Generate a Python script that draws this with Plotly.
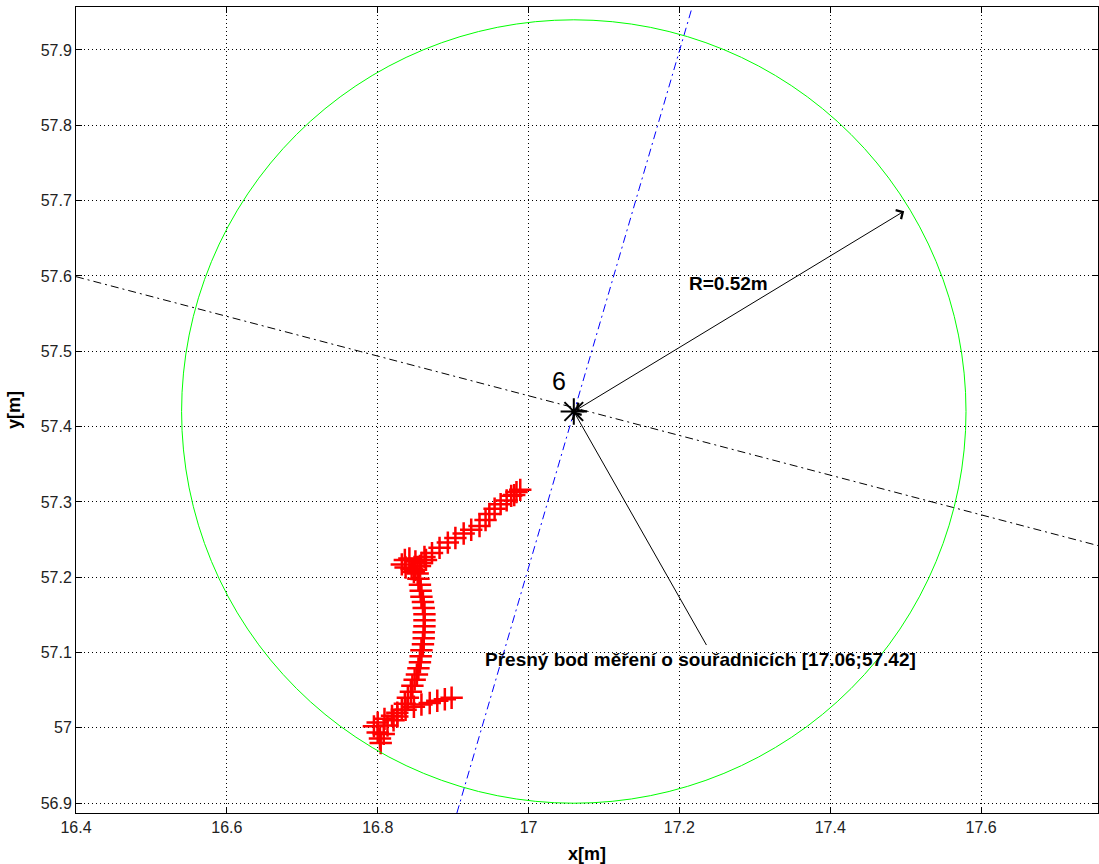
import plotly.graph_objects as go

# ---- data ----
center_x = 17.06
center_y = 57.42
radius = 0.52
radius_tip = (17.498, 57.686)
label_anchor = (17.237, 57.108)

blue_line_x = [16.905, 17.217]
blue_line_y = [56.887, 57.957]
black_line_x = [16.40, 17.755]
black_line_y = [57.599, 57.242]

track_x = [16.898, 16.889, 16.879, 16.869, 16.858, 16.848, 16.837, 16.826, 16.819,
           16.809, 16.800, 16.795, 16.800, 16.803, 16.804, 16.808, 16.813, 16.821, 16.826,
           16.832, 16.836, 16.840, 16.844, 16.846, 16.849, 16.852, 16.854, 16.856, 16.857,
           16.858, 16.860, 16.861, 16.861, 16.862, 16.862, 16.862, 16.861, 16.860, 16.858,
           16.857, 16.856, 16.854, 16.853, 16.850,
           16.845, 16.837, 16.832, 16.836, 16.842, 16.850, 16.858, 16.864, 16.856, 16.848,
           16.862, 16.872, 16.882, 16.893, 16.903, 16.914, 16.924, 16.935, 16.943, 16.948,
           16.955, 16.963, 16.971, 16.977, 16.984, 16.989, 16.981]
track_y = [57.040, 57.038, 57.036, 57.033, 57.031, 57.028, 57.024, 57.020, 57.016,
           57.012, 57.007, 57.002, 56.994, 56.986, 56.980, 56.992, 57.003, 57.010, 57.015,
           57.024, 57.032, 57.040, 57.048, 57.056, 57.064, 57.071, 57.079, 57.087, 57.095,
           57.103, 57.111, 57.119, 57.127, 57.135, 57.143, 57.151, 57.159, 57.167, 57.174,
           57.182, 57.190, 57.198, 57.205, 57.210,
           57.211, 57.213, 57.217, 57.223, 57.225, 57.221, 57.219, 57.223, 57.215, 57.207,
           57.227, 57.232, 57.239, 57.246, 57.252, 57.258, 57.263, 57.268, 57.276, 57.284,
           57.291, 57.297, 57.302, 57.308, 57.313, 57.316, 57.309]

x_ticks = [16.4, 16.6, 16.8, 17.0, 17.2, 17.4, 17.6]
x_tick_labels = ["16.4", "16.6", "16.8", "17", "17.2", "17.4", "17.6"]
y_ticks = [56.9, 57.0, 57.1, 57.2, 57.3, 57.4, 57.5, 57.6, 57.7, 57.8, 57.9]
y_tick_labels = ["56.9", "57", "57.1", "57.2", "57.3", "57.4", "57.5", "57.6", "57.7", "57.8", "57.9"]

point_label = "6"
radius_label = "R=0.52m"
point_text = "Přesný bod měření o souřadnicích [17.06;57.42]"

FONT = "Liberation Sans, Arial, sans-serif"

fig = go.Figure()

fig.add_shape(type="circle", xref="x", yref="y",
              x0=center_x - radius, x1=center_x + radius,
              y0=center_y - radius, y1=center_y + radius,
              line=dict(color="#00ff00", width=1), layer="above")

fig.add_trace(go.Scatter(x=black_line_x, y=black_line_y, mode="lines",
                         line=dict(color="black", width=1, dash="8px,4px,2px,4px"),
                         hoverinfo="skip"))
fig.add_trace(go.Scatter(x=blue_line_x, y=blue_line_y, mode="lines",
                         line=dict(color="blue", width=1, dash="8px,4px,2px,4px"),
                         hoverinfo="skip"))
fig.add_trace(go.Scatter(x=track_x, y=track_y, mode="markers",
                         marker=dict(symbol="cross-thin", size=16, color="red",
                                     line=dict(color="red", width=2.5))))
fig.add_trace(go.Scatter(x=[center_x], y=[center_y], mode="markers",
                         marker=dict(symbol="asterisk", size=22, color="black",
                                     line=dict(color="black", width=2))))

# double-headed radius arrow
fig.add_annotation(x=radius_tip[0], y=radius_tip[1], ax=center_x, ay=center_y,
                   xref="x", yref="y", axref="x", ayref="y", text="",
                   showarrow=True, arrowhead=4, startarrowhead=4, arrowside="end+start",
                   arrowsize=2, startarrowsize=2, arrowwidth=1, arrowcolor="black",
                   standoff=0, startstandoff=0)
# label arrow
fig.add_annotation(x=center_x, y=center_y, ax=label_anchor[0], ay=label_anchor[1],
                   xref="x", yref="y", axref="x", ayref="y", text="",
                   showarrow=True, arrowhead=4, arrowsize=2, arrowwidth=1,
                   arrowcolor="black", standoff=0)

fig.add_annotation(x=17.21, y=57.59, text="<b>" + radius_label + "</b>", showarrow=False,
                   xanchor="left", yanchor="middle",
                   font=dict(family=FONT, size=19, color="black"))
fig.add_annotation(x=17.041, y=57.46, text=point_label, showarrow=False,
                   xanchor="center", yanchor="middle",
                   font=dict(family=FONT, size=25, color="black"))
fig.add_annotation(x=16.94, y=57.091, text="<b>" + point_text + "</b>", showarrow=False,
                   xanchor="left", yanchor="middle",
                   font=dict(family=FONT, size=19, color="black"))

axis_common = dict(showgrid=True, gridcolor="black", gridwidth=1, griddash="1px,3px",
                   zeroline=False, showline=True, linecolor="black", linewidth=1,
                   mirror="ticks", ticks="inside", ticklen=6, tickcolor="black",
                   automargin=False,
                   tickfont=dict(family=FONT, size=16, color="#222222"))

fig.update_layout(
    width=1099, height=864,
    margin=dict(l=76, r=1, t=7, b=51),
    paper_bgcolor="white", plot_bgcolor="white",
    showlegend=False,
    xaxis=dict(range=[16.4, 17.755], tickvals=x_ticks, ticktext=x_tick_labels,
               title=dict(text="<b>x[m]</b>",
                          font=dict(family=FONT, size=18, color="black")),
               **axis_common),
    yaxis=dict(range=[56.887, 57.957], tickvals=y_ticks, ticktext=y_tick_labels,
               title=dict(text="<b>y[m]</b>",
                          font=dict(family=FONT, size=18, color="black")),
               **axis_common),
)

fig.write_html("out.html", config={"displayModeBar": False},
               post_script="document.body.style.margin='0';document.body.style.overflow='hidden';")
